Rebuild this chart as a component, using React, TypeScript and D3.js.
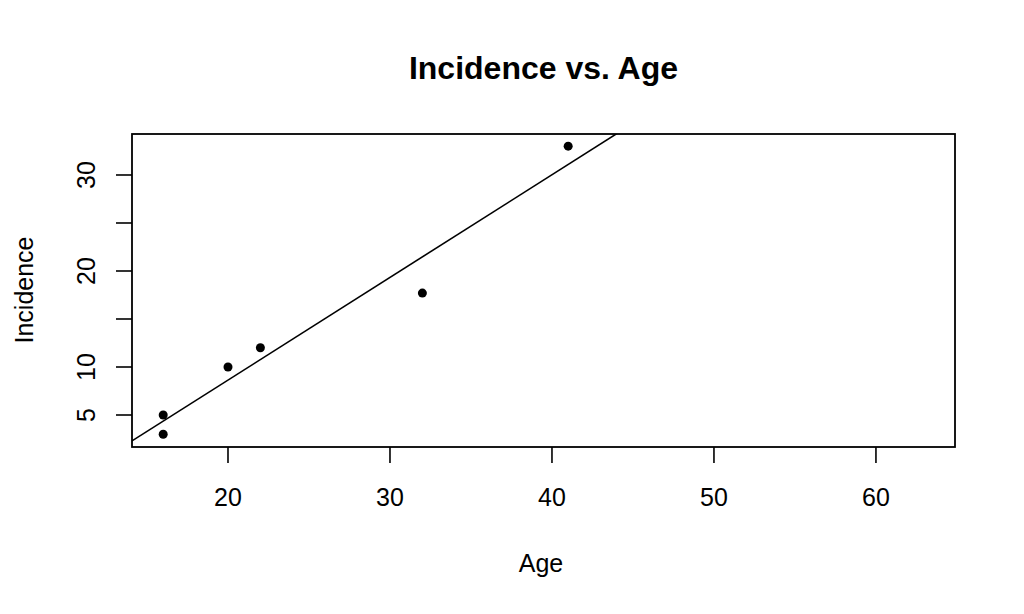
import React from "react";
import * as d3 from "d3";

const ages = [16, 16, 20, 22, 32, 41];
const incidence = [5, 3, 10, 12, 17.7, 33];
const xTicks = [20, 30, 40, 50, 60];
const yTicks = [5, 10, 15, 20, 25, 30];
const yTickLabels = ["5", "10", "", "20", "", "30"];
const title = "Incidence vs. Age";
const xTitle = "Age";
const yTitle = "Incidence";

const W = 1024;
const H = 614;
const L = 132, R = 955, T = 134, B = 447;

export default function App() {
  const x = d3.scaleLinear().domain([14.074, 64.88]).range([L, R]);
  const y = d3.scaleLinear().domain([1.667, 34.27]).range([B, T]);

  const mx = d3.mean(ages)!;
  const my = d3.mean(incidence)!;
  let sxy = 0, sxx = 0;
  ages.forEach((a, i) => {
    sxy += (a - mx) * (incidence[i] - my);
    sxx += (a - mx) * (a - mx);
  });
  const slope = sxy / sxx;
  const intercept = my - slope * mx;
  const [x0, x1] = x.domain();
  const lineGen = d3
    .line<number>()
    .x((d) => x(d))
    .y((d) => y(intercept + slope * d));

  const font = "'Liberation Sans', Arial, sans-serif";

  return (
    <svg
      width={W}
      height={H}
      style={{ position: "absolute", left: 0, top: 0, background: "#fff" }}
      fontFamily={font}
    >
      <defs>
        <clipPath id="plotClip">
          <rect x={L} y={T} width={R - L} height={B - T} />
        </clipPath>
      </defs>
      <rect x={0} y={0} width={W} height={H} fill="#fff" />
      <text x={(L + R) / 2 + 0} y={79} textAnchor="middle" fontSize={32} fontWeight="bold" fill="#000">
        {title}
      </text>
      <rect x={L} y={T} width={R - L} height={B - T} fill="none" stroke="#000" strokeWidth={1.8} />
      {xTicks.map((t) => (
        <g key={"x" + t}>
          <line x1={x(t)} x2={x(t)} y1={B} y2={B + 16} stroke="#000" strokeWidth={1.6} />
          <text x={x(t)} y={506} textAnchor="middle" fontSize={25} fill="#000">
            {t}
          </text>
        </g>
      ))}
      {yTicks.map((t, i) => (
        <g key={"y" + t}>
          <line x1={L - 16} x2={L} y1={y(t)} y2={y(t)} stroke="#000" strokeWidth={1.6} />
          {yTickLabels[i] && (
            <text
              transform={`translate(95,${y(t)}) rotate(-90)`}
              textAnchor="middle"
              fontSize={25}
              fill="#000"
            >
              {yTickLabels[i]}
            </text>
          )}
        </g>
      ))}
      <text x={541} y={572} textAnchor="middle" fontSize={25} fill="#000">
        {xTitle}
      </text>
      <text transform={`translate(33,290) rotate(-90)`} textAnchor="middle" fontSize={25} fill="#000">
        {yTitle}
      </text>
      <path
        d={lineGen([x0, x1]) || ""}
        fill="none"
        stroke="#000"
        strokeWidth={1.6}
        clipPath="url(#plotClip)"
      />
      {ages.map((a, i) => (
        <circle key={i} cx={x(a)} cy={y(incidence[i])} r={4.5} fill="#000" />
      ))}
    </svg>
  );
}
